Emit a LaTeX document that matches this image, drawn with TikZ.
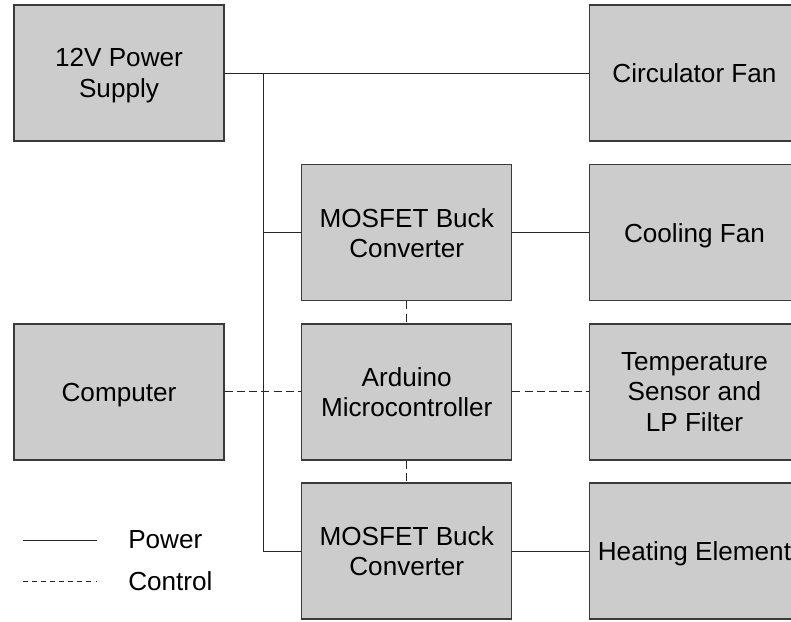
\documentclass[tikz,border=0pt]{standalone}
\usepackage{fontspec}
\setmainfont{Liberation Sans}
\usepackage{tikz}
\usetikzlibrary{
    positioning,
    calc
}

\definecolor{boxgray}{HTML}{CCCCCC}
\definecolor{edgegray}{HTML}{3A3A3A}

\begin{document}
\begin{tikzpicture}[
    x=0.75pt, y=-0.75pt,
    every node/.style={font=\fontsize{19.6}{22.8}\selectfont},
    block/.style={
        rectangle,
        draw=edgegray,
        fill=boxgray,
        line width=0.9pt,
        align=center,
        inner sep=0pt,
        text depth=0pt,
        minimum height=102pt,
        minimum width=157.5pt
    },
    power/.style={draw=black!85, line width=0.75pt},
    ctrl/.style={draw=black!85, line width=0.75pt, dash pattern=on 6pt off 3.2pt},
    legctrl/.style={draw=black!85, line width=0.6pt, dash pattern=on 3.6pt off 3.2pt},
    legtext/.style={inner sep=0pt, anchor=west}
]
\useasboundingbox (0,0) rectangle (791,621);

% ---------- Blocks (column by column) ----------
\node[block] (psu) at (119,73) {12V Power\\Supply};

\node[block, below right=17pt and 57.4pt of psu.south east, anchor=north west] (buck1) {MOSFET Buck\\Converter};

\node[block, below=16.4pt of buck1] (mcu) {Arduino\\Microcontroller};

\node[block, below=16.4pt of mcu] (buck2) {MOSFET Buck\\Converter};

\node[block, left=57.4pt of mcu] (pc) {Computer};

\node[block, right=57.4pt of buck1] (cool) {Cooling Fan};

\node[block, above=17pt of cool] (circ) {Circulator Fan};

\node[block, right=57.4pt of mcu] (temp) {Temperature\\Sensor and\\LP Filter};

\node[block, right=57.4pt of buck2] (heat) {Heating Element};

% ---------- Power lines ----------
\coordinate (tap) at ($(psu.east)+(29.25pt,0)$);
\draw[power] (psu.east) -- (circ.west);
\draw[power] (tap) |- (buck1.west);
\draw[power] (tap) |- (buck2.west);
\draw[power] (buck1) -- (cool);
\draw[power] (buck2) -- (heat);

% ---------- Control lines ----------
\draw[ctrl] (buck1) -- (mcu);
\draw[ctrl] (mcu) -- (buck2);
\draw[ctrl] (pc) -- (mcu);
\draw[ctrl] (mcu) -- (temp);

% ---------- Legend ----------
\coordinate (pwA) at (23,540);
\coordinate (pwB) at (97,540);
\coordinate (ctA) at (23,581);
\coordinate (ctB) at (97,581);
\draw[power] (pwA) -- (pwB);
\draw[legctrl] (ctA) -- (ctB);
\node[legtext] (pwtxt) at (128,540) {Power};
\node[legtext] (cttxt) at (128,581) {Control};

\end{tikzpicture}
\end{document}
